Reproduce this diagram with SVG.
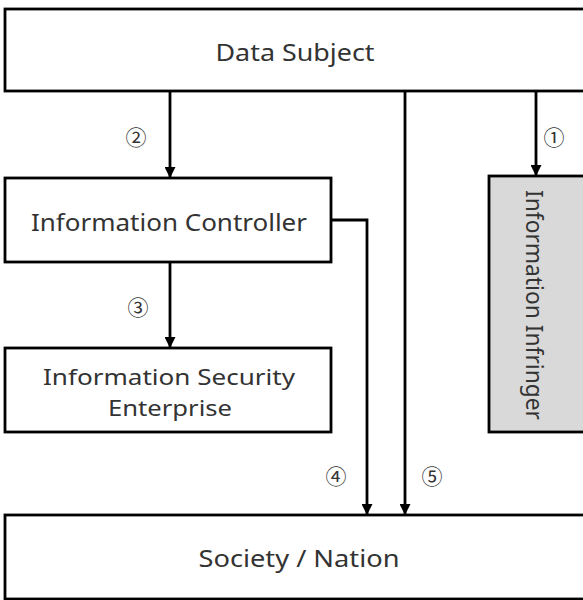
<svg xmlns="http://www.w3.org/2000/svg" width="583" height="600" viewBox="0 0 583 600">
<defs>
<marker id="ah" markerWidth="11" markerHeight="11" refX="10" refY="5.5" orient="auto" markerUnits="userSpaceOnUse">
<path d="M0,0 L11,5.5 L0,11 Z" fill="#000"/>
</marker>
</defs>
<style>
.box{fill:#fff;stroke:#000;stroke-width:2.8}
.gray{fill:#d9d9d9;stroke:#000;stroke-width:2.8}
.lbl{font-family:"Noto Sans","Open Sans","DejaVu Sans",sans-serif;font-size:23px;fill:#333;text-anchor:middle;dominant-baseline:central}
.num{font-family:"Noto Sans CJK KR","DejaVu Sans",sans-serif;font-size:21px;fill:#333;text-anchor:middle;dominant-baseline:central}
.ln{fill:none;stroke:#000;stroke-width:2.8}
</style>
<rect width="583" height="600" fill="#fff"/>
<g id="data-subject">
<rect class="box" x="5" y="9" width="582" height="82"/>
<text class="lbl" x="295" y="52" textLength="159" lengthAdjust="spacingAndGlyphs">Data Subject</text>
</g>
<g id="information-controller">
<rect class="box" x="5" y="178" width="326" height="84"/>
<text class="lbl" x="169" y="222" textLength="276" lengthAdjust="spacingAndGlyphs">Information Controller</text>
</g>
<g id="information-security-enterprise">
<rect class="box" x="5" y="348" width="326" height="84"/>
<text class="lbl" x="169" y="376" textLength="252" lengthAdjust="spacingAndGlyphs" style="font-size:22px">Information Security</text>
<text class="lbl" x="170" y="407" textLength="124" lengthAdjust="spacingAndGlyphs" style="font-size:22px">Enterprise</text>
</g>
<g id="information-infringer">
<rect class="gray" x="489" y="176" width="100" height="256"/>
<text class="lbl" transform="translate(535 305) rotate(90)" x="0" y="0" textLength="230" lengthAdjust="spacingAndGlyphs">Information Infringer</text>
</g>
<g id="society-nation">
<rect class="box" x="5" y="515" width="582" height="84"/>
<text class="lbl" x="299" y="558" textLength="201" lengthAdjust="spacingAndGlyphs">Society / Nation</text>
</g>
<g id="connectors">
<line class="ln" x1="536" y1="91" x2="536" y2="175" marker-end="url(#ah)"/>
<line class="ln" x1="170" y1="91" x2="170" y2="177" marker-end="url(#ah)"/>
<line class="ln" x1="170" y1="262" x2="170" y2="347" marker-end="url(#ah)"/>
<polyline class="ln" points="331,220 367,220 367,514" marker-end="url(#ah)"/>
<line class="ln" x1="405" y1="91" x2="405" y2="514" marker-end="url(#ah)"/>
<text class="num" x="554" y="136">①</text>
<text class="num" x="136" y="136">②</text>
<text class="num" x="138" y="306">③</text>
<text class="num" x="336" y="475">④</text>
<text class="num" x="432" y="475">⑤</text>
</g>
</svg>
